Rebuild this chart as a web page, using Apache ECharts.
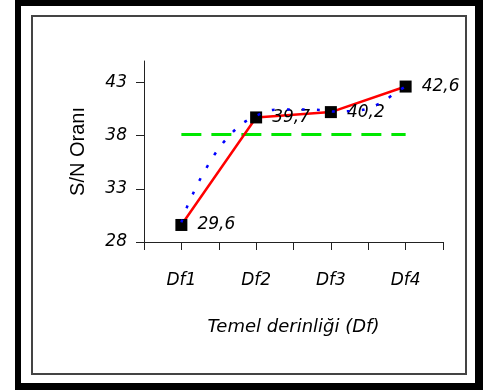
<!DOCTYPE html>
<html>
<head>
<meta charset="utf-8">
<script src="https://cdn.jsdelivr.net/npm/echarts@6/dist/echarts.min.js"></script>
<style>
html,body{margin:0;padding:0;background:#fff;}
#chart{width:483px;height:390px;}
</style>
</head>
<body>
<div id="chart"></div>
<script>
// ---- data ----
const categories = ['Df1', 'Df2', 'Df3', 'Df4'];
const snValues = [29.6, 39.7, 40.2, 42.6];
const snLabels = ['29,6', '39,7', '40,2', '42,6'];
const yTicks = [28, 33, 38, 43];
const meanLevel = 38.1;
const trendX = [1.0, 1.07, 1.17, 1.27, 1.39, 1.5, 1.65, 1.82, 2.0, 2.22, 2.45, 2.62, 2.85, 3.06, 3.25, 3.45, 3.69, 3.87, 4.0];
const trendY = [29.85, 31.2, 32.75, 34.15, 35.6, 36.8, 38.05, 39.15, 39.85, 40.4, 40.45, 40.45, 40.4, 40.25, 40.3, 40.45, 41.15, 42.05, 42.6];
const xName = 'Temel derinliği (Df)';
const yName = 'S/N Oranı';

const chart = echarts.init(document.getElementById('chart'), null, {renderer: 'canvas'});
const catPos = categories.map((c, i) => i + 1);
const mainData = snValues.map((v, i) => [catPos[i], v]);
const trendData = trendX.map((x, i) => [x, trendY[i]]);
const meanData = [[catPos[0], meanLevel], [catPos[catPos.length - 1], meanLevel]];
const tickFont = {fontFamily: 'DejaVu Sans', fontStyle: 'italic', fontSize: 17, color: '#000'};

chart.setOption({
  animation: false,
  backgroundColor: '#fff',
  graphic: [
    {type: 'rect', z: -10, silent: true, shape: {x: 15, y: 0, width: 468, height: 390}, style: {fill: '#000'}},
    {type: 'rect', z: -9, silent: true, shape: {x: 21, y: 6, width: 454, height: 377}, style: {fill: '#fff'}},
    {type: 'rect', z: -8, silent: true, shape: {x: 32, y: 16, width: 434, height: 358}, style: {fill: '#fff', stroke: '#444', lineWidth: 2}}
  ],
  grid: {left: 144, right: 40, top: 61, bottom: 148, containLabel: false},
  xAxis: {
    type: 'value',
    min: 0.5, max: 4.5, interval: 0.5,
    splitLine: {show: false},
    axisLine: {show: true, lineStyle: {color: '#222', width: 1}},
    axisTick: {show: true, length: 8, inside: false, lineStyle: {color: '#222'}},
    axisLabel: Object.assign({
      margin: 30,
      customValues: catPos,
      formatter: v => categories[Math.round(v) - 1] || ''
    }, tickFont),
    name: xName,
    nameLocation: 'middle',
    nameGap: 76,
    nameTextStyle: {fontFamily: 'DejaVu Sans', fontStyle: 'italic', fontSize: 18, color: '#000'}
  },
  yAxis: {
    type: 'value',
    min: 28, max: 45, interval: 5,
    splitLine: {show: false},
    axisLine: {show: true, lineStyle: {color: '#222', width: 1}},
    axisTick: {show: true, length: 8, customValues: yTicks, lineStyle: {color: '#222'}},
    axisLabel: Object.assign({margin: 17, customValues: yTicks}, tickFont),
    name: yName,
    nameLocation: 'middle',
    nameGap: 56,
    nameRotate: 90,
    nameTextStyle: {fontFamily: 'Liberation Sans', fontSize: 20, color: '#000'}
  },
  series: [
    {
      type: 'line',
      data: meanData,
      symbol: 'none',
      z: 1,
      lineStyle: {color: '#00e800', width: 3, type: [20, 10]}
    },
    {
      type: 'line',
      data: trendData,
      smooth: 0.3,
      symbol: 'none',
      z: 3,
      lineStyle: {color: '#0000ff', width: 2.5, type: [3, 12]}
    },
    {
      type: 'line',
      data: mainData,
      symbol: 'rect',
      symbolSize: 12,
      z: 2,
      itemStyle: {color: '#000'},
      lineStyle: {color: '#ff0000', width: 2.5},
      label: Object.assign({
        show: true,
        position: 'right',
        distance: 10,
        formatter: p => snLabels[p.dataIndex]
      }, tickFont)
    }
  ]
});
</script>
</body>
</html>
